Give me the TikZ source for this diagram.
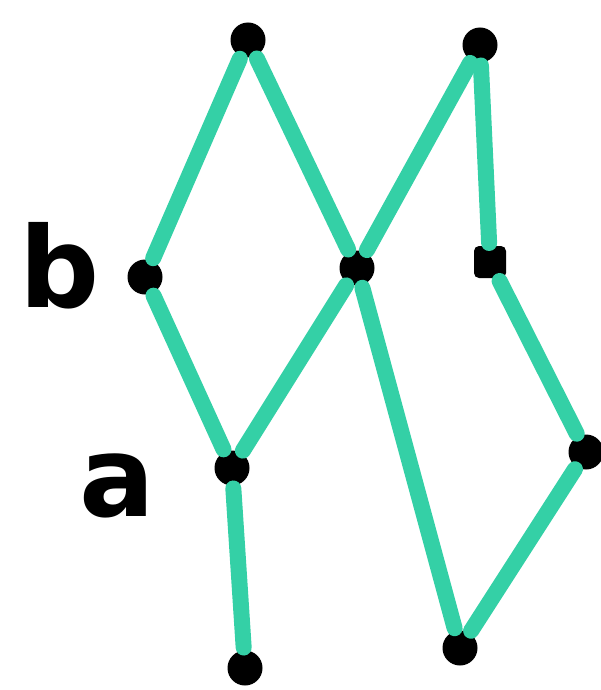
\documentclass[tikz,border=0pt]{standalone}
\usepackage{fontspec}
\setmainfont{DejaVu Sans}
\definecolor{edgegreen}{RGB}{52,208,166}
\begin{document}
\begin{tikzpicture}[x=1pt,y=-1pt,
  dot/.style={circle,fill=black,minimum size=35pt,inner sep=0pt,outer sep=3pt},
  sqdot/.style={rectangle,rounded corners=5pt,fill=black,minimum size=32pt,inner sep=0pt,outer sep=3pt},
  edge/.style={draw=edgegreen,line width=16pt,line cap=round},
  lbl/.style={font=\fontsize{112}{112}\selectfont\bfseries,inner sep=0pt}]
\useasboundingbox (0,0) rectangle (601,690);
\node[dot] (t1) at (248,40) {};
\node[dot] (t2) at (480,45) {};
\node[dot] (b) at (145,277) {};
\node[dot] (m) at (357,268) {};
\node[sqdot] (r) at (490,262) {};
\node[dot] (a) at (232,468) {};
\node[dot] (fr) at (586,452) {};
\node[dot] (b1) at (245,668) {};
\node[dot] (b2) at (460,648) {};
\node[lbl] (lb) at (60,266) {b};
\node[lbl] (la) at (117,486) {a};
\draw[edge] (t1) -- (b);
\draw[edge] (t1) -- (m);
\draw[edge] (t2) -- (m);
\draw[edge] (t2) -- (r);
\draw[edge] (b) -- (a);
\draw[edge] (m) -- (a);
\draw[edge] (m) -- (b2);
\draw[edge] (r) -- (fr);
\draw[edge] (fr) -- (b2);
\draw[edge] (a) -- (b1);
\end{tikzpicture}
\end{document}
